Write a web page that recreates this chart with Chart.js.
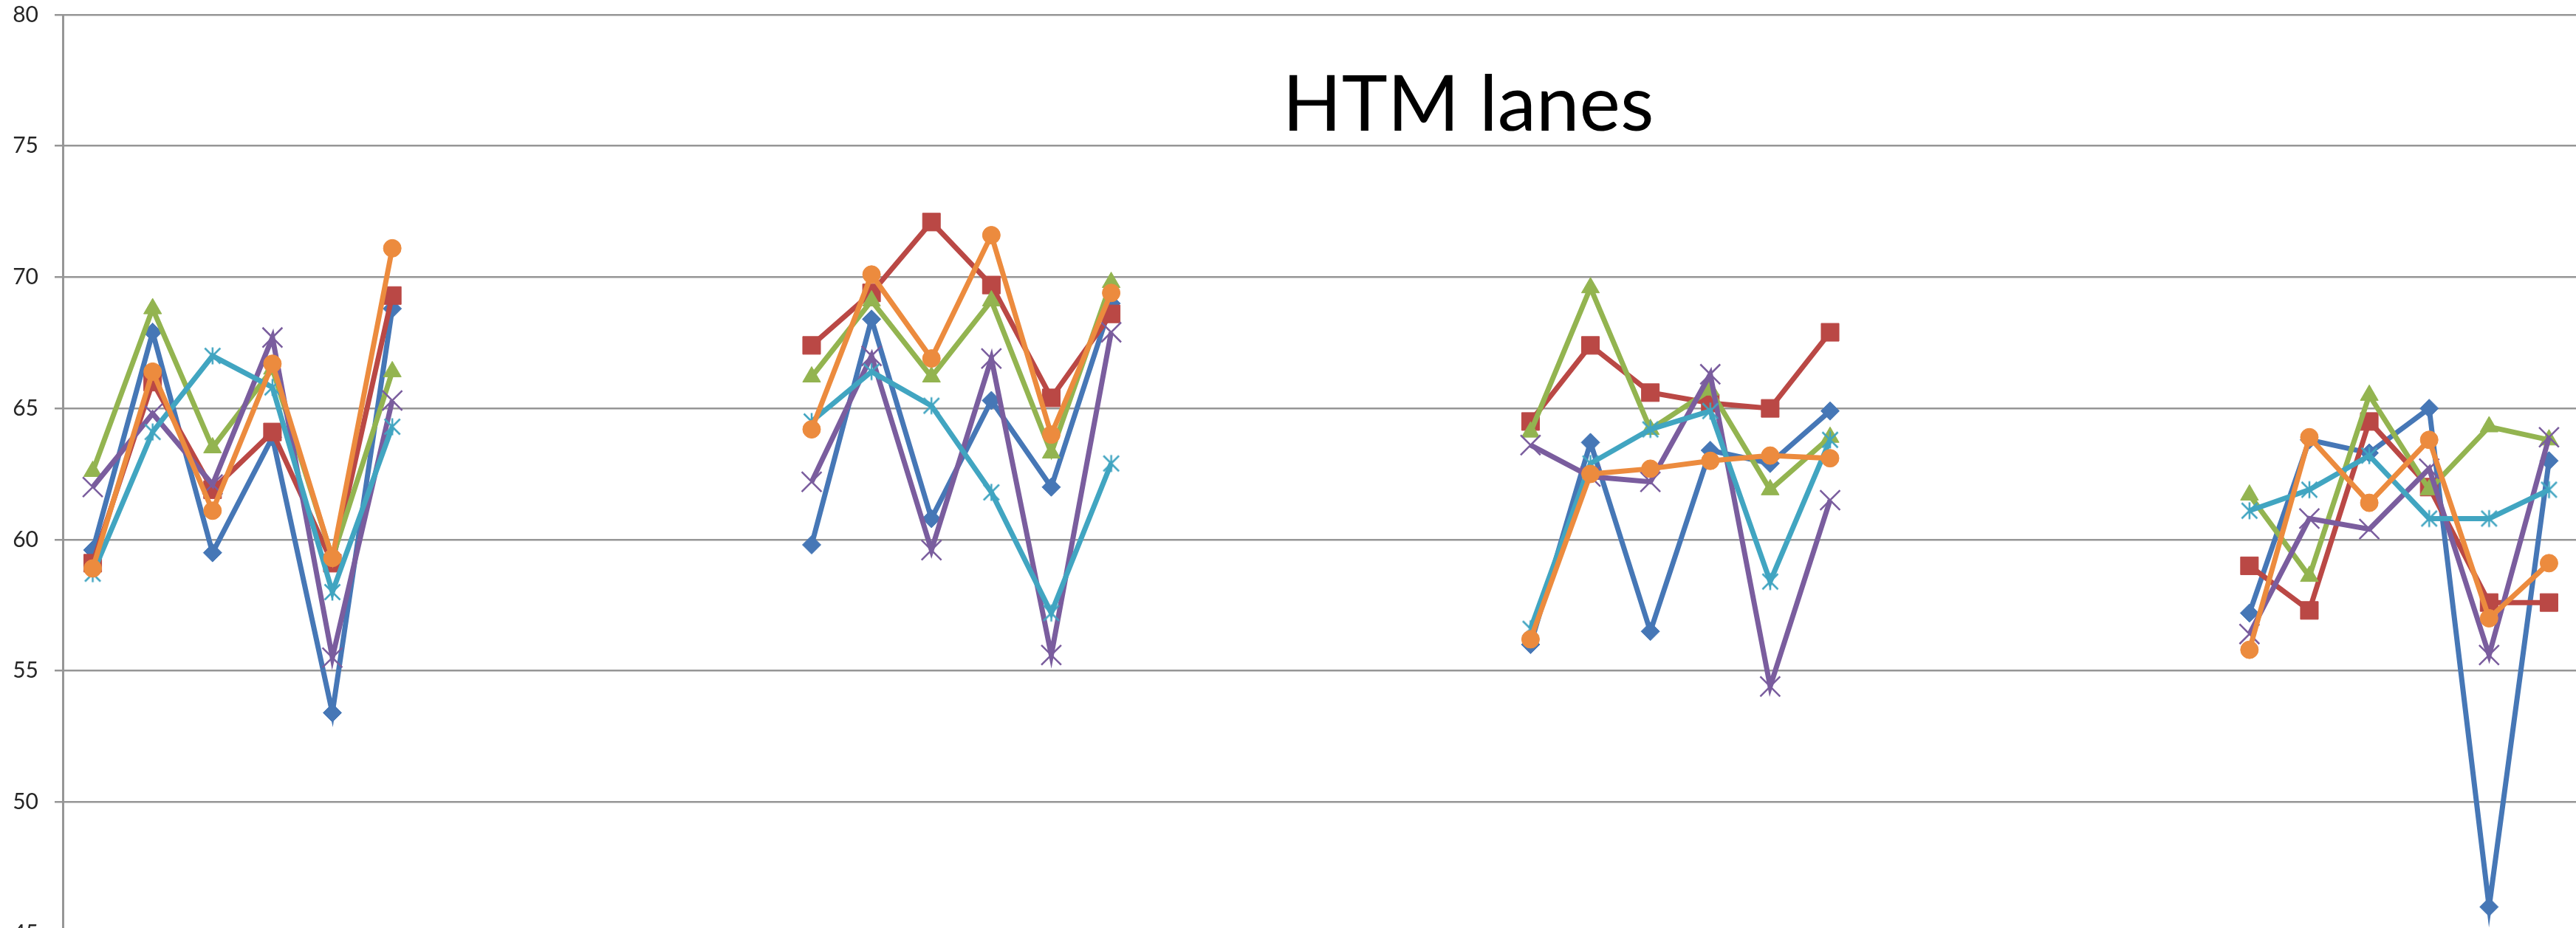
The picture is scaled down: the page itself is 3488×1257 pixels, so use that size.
<!DOCTYPE html>
<html>
<head>
<meta charset="utf-8">
<title>HTM lanes</title>
<script src="https://cdn.jsdelivr.net/npm/chart.js@4.4.1/dist/chart.umd.min.js"></script>
<style>
  html, body { margin: 0; padding: 0; background: #fff; overflow: hidden; }
  #wrap { width: 3488px; height: 1257px; overflow: hidden; }
  canvas { display: block; }
</style>
</head>
<body>
<div id="wrap"><canvas id="htmChart" width="3492" height="1280"></canvas></div>
<script>
// HTM lanes – six runs, four blocks of six lanes (gaps between blocks)
const categories = [
  '1', '2', '3', '4', '5', '6', '7', '8', '9', '10', '11', '12', '13', '14',
  '15', '16', '17', '18', '19', '20', '21', '22', '23', '24', '25', '26', '27', '28',
  '29', '30', '31', '32', '33', '34', '35', '36', '37', '38', '39', '40', '41', '42'
];

const series1 = [59.6, 67.9, 59.5, 63.9, 53.4, 68.8, null, null, null, null, null, null,
                 59.8, 68.4, 60.8, 65.3, 62.0, 69.0, null, null, null, null, null, null,
                 56.0, 63.7, 56.5, 63.4, 62.9, 64.9, null, null, null, null, null, null,
                 57.2, 63.8, 63.3, 65.0, 46.0, 63.0];
const series2 = [59.1, 66.0, 61.9, 64.1, 59.1, 69.3, null, null, null, null, null, null,
                 67.4, 69.4, 72.1, 69.7, 65.4, 68.6, null, null, null, null, null, null,
                 64.5, 67.4, 65.6, 65.2, 65.0, 67.9, null, null, null, null, null, null,
                 59.0, 57.3, 64.5, 62.0, 57.6, 57.6];
const series3 = [62.6, 68.8, 63.5, 66.5, 59.3, 66.4, null, null, null, null, null, null,
                 66.2, 69.1, 66.2, 69.1, 63.3, 69.8, null, null, null, null, null, null,
                 64.1, 69.6, 64.2, 65.7, 61.9, 63.9, null, null, null, null, null, null,
                 61.7, 58.6, 65.5, 61.9, 64.3, 63.8];
const series4 = [62.0, 64.8, 62.1, 67.7, 55.5, 65.3, null, null, null, null, null, null,
                 62.2, 67.0, 59.6, 66.9, 55.6, 67.9, null, null, null, null, null, null,
                 63.6, 62.4, 62.2, 66.3, 54.4, 61.5, null, null, null, null, null, null,
                 56.4, 60.8, 60.4, 62.7, 55.6, 63.9];
const series5 = [58.7, 64.1, 67.0, 65.8, 58.0, 64.3, null, null, null, null, null, null,
                 64.5, 66.4, 65.1, 61.8, 57.2, 62.9, null, null, null, null, null, null,
                 56.6, 62.9, 64.2, 64.9, 58.4, 63.8, null, null, null, null, null, null,
                 61.1, 61.9, 63.2, 60.8, 60.8, 61.9];
const series6 = [58.9, 66.4, 61.1, 66.7, 59.3, 71.1, null, null, null, null, null, null,
                 64.2, 70.1, 66.9, 71.6, 64.0, 69.4, null, null, null, null, null, null,
                 56.2, 62.5, 62.7, 63.0, 63.2, 63.1, null, null, null, null, null, null,
                 55.8, 63.9, 61.4, 63.8, 57.0, 59.1];

const yTicks = [45, 50, 55, 60, 65, 70, 75, 80];

const TITLE = 'HTM lanes';
const GRID = '#969696';

// Excel-style asterisk marker (X plus a vertical bar)
function asterisk(color, size, lw) {
  const c = document.createElement('canvas');
  c.width = size; c.height = size;
  const g = c.getContext('2d');
  const m = lw;
  g.strokeStyle = color;
  g.lineWidth = lw;
  g.beginPath();
  g.moveTo(m, m); g.lineTo(size - m, size - m);
  g.moveTo(size - m, m); g.lineTo(m, size - m);
  g.moveTo(size / 2, m - 1); g.lineTo(size / 2, size - m + 1);
  g.stroke();
  return c;
}

function line(label, data, color, style, radius, idx) {
  return {
    label: label,
    data: data,
    borderColor: color,
    backgroundColor: color,
    borderWidth: 7,
    pointStyle: style,
    pointRadius: radius,
    pointBackgroundColor: color,
    pointBorderColor: color,
    pointBorderWidth: (style === 'crossRot') ? 2.5 : 1,
    tension: 0,
    spanGaps: false,
    order: 6 - idx   // later series on top, as in Excel
  };
}

const titlePlugin = {
  id: 'htmTitle',
  beforeDatasetsDraw(chart) {
    const ctx = chart.ctx;
    ctx.save();
    ctx.font = '105px Lato';
    ctx.fillStyle = '#000';
    ctx.textAlign = 'center';
    ctx.textBaseline = 'alphabetic';
    ctx.fillText(TITLE, 1988, 177);
    ctx.restore();
  }
};

new Chart(document.getElementById('htmChart'), {
  type: 'line',
  data: {
    labels: categories,
    datasets: [
      line('Series1', series1, '#4677B6', 'rectRot', 12.5, 0),
      line('Series2', series2, '#BA4845', 'rect', 17, 1),
      line('Series3', series3, '#93B450', 'triangle', 14, 2),
      line('Series4', series4, '#7A5D9E', 'crossRot', 19, 3),
      line('Series5', series5, '#41A5C1', asterisk('#41A5C1', 26, 2.5), 13, 4),
      line('Series6', series6, '#EC8B3E', 'circle', 12, 5)
    ]
  },
  options: {
    responsive: false,
    devicePixelRatio: 1,
    animation: false,
    layout: {
      autoPadding: false,
      padding: { top: 20, right: 0, bottom: 16, left: 0 }
    },
    plugins: {
      legend: { display: false },
      tooltip: { enabled: false },
      title: { display: false }
    },
    scales: {
      x: {
        display: false,
        offset: true,
        grid: { display: false }
      },
      y: {
        min: yTicks[0],
        max: yTicks[yTicks.length - 1],
        afterBuildTicks: s => { s.ticks = yTicks.map(v => ({ value: v })); },
        afterFit: s => {
          s.width = 85;
          s.paddingTop = 0;
          s.paddingBottom = 0;
        },
        ticks: {
          padding: 22,
          color: '#262626',
          font: { family: 'Lato', size: 30 }
        },
        grid: { color: GRID, lineWidth: 2.5, drawTicks: true, tickLength: 11 },
        border: { display: true, color: GRID, width: 3 }
      }
    }
  },
  plugins: [titlePlugin]
});
</script>
</body>
</html>
